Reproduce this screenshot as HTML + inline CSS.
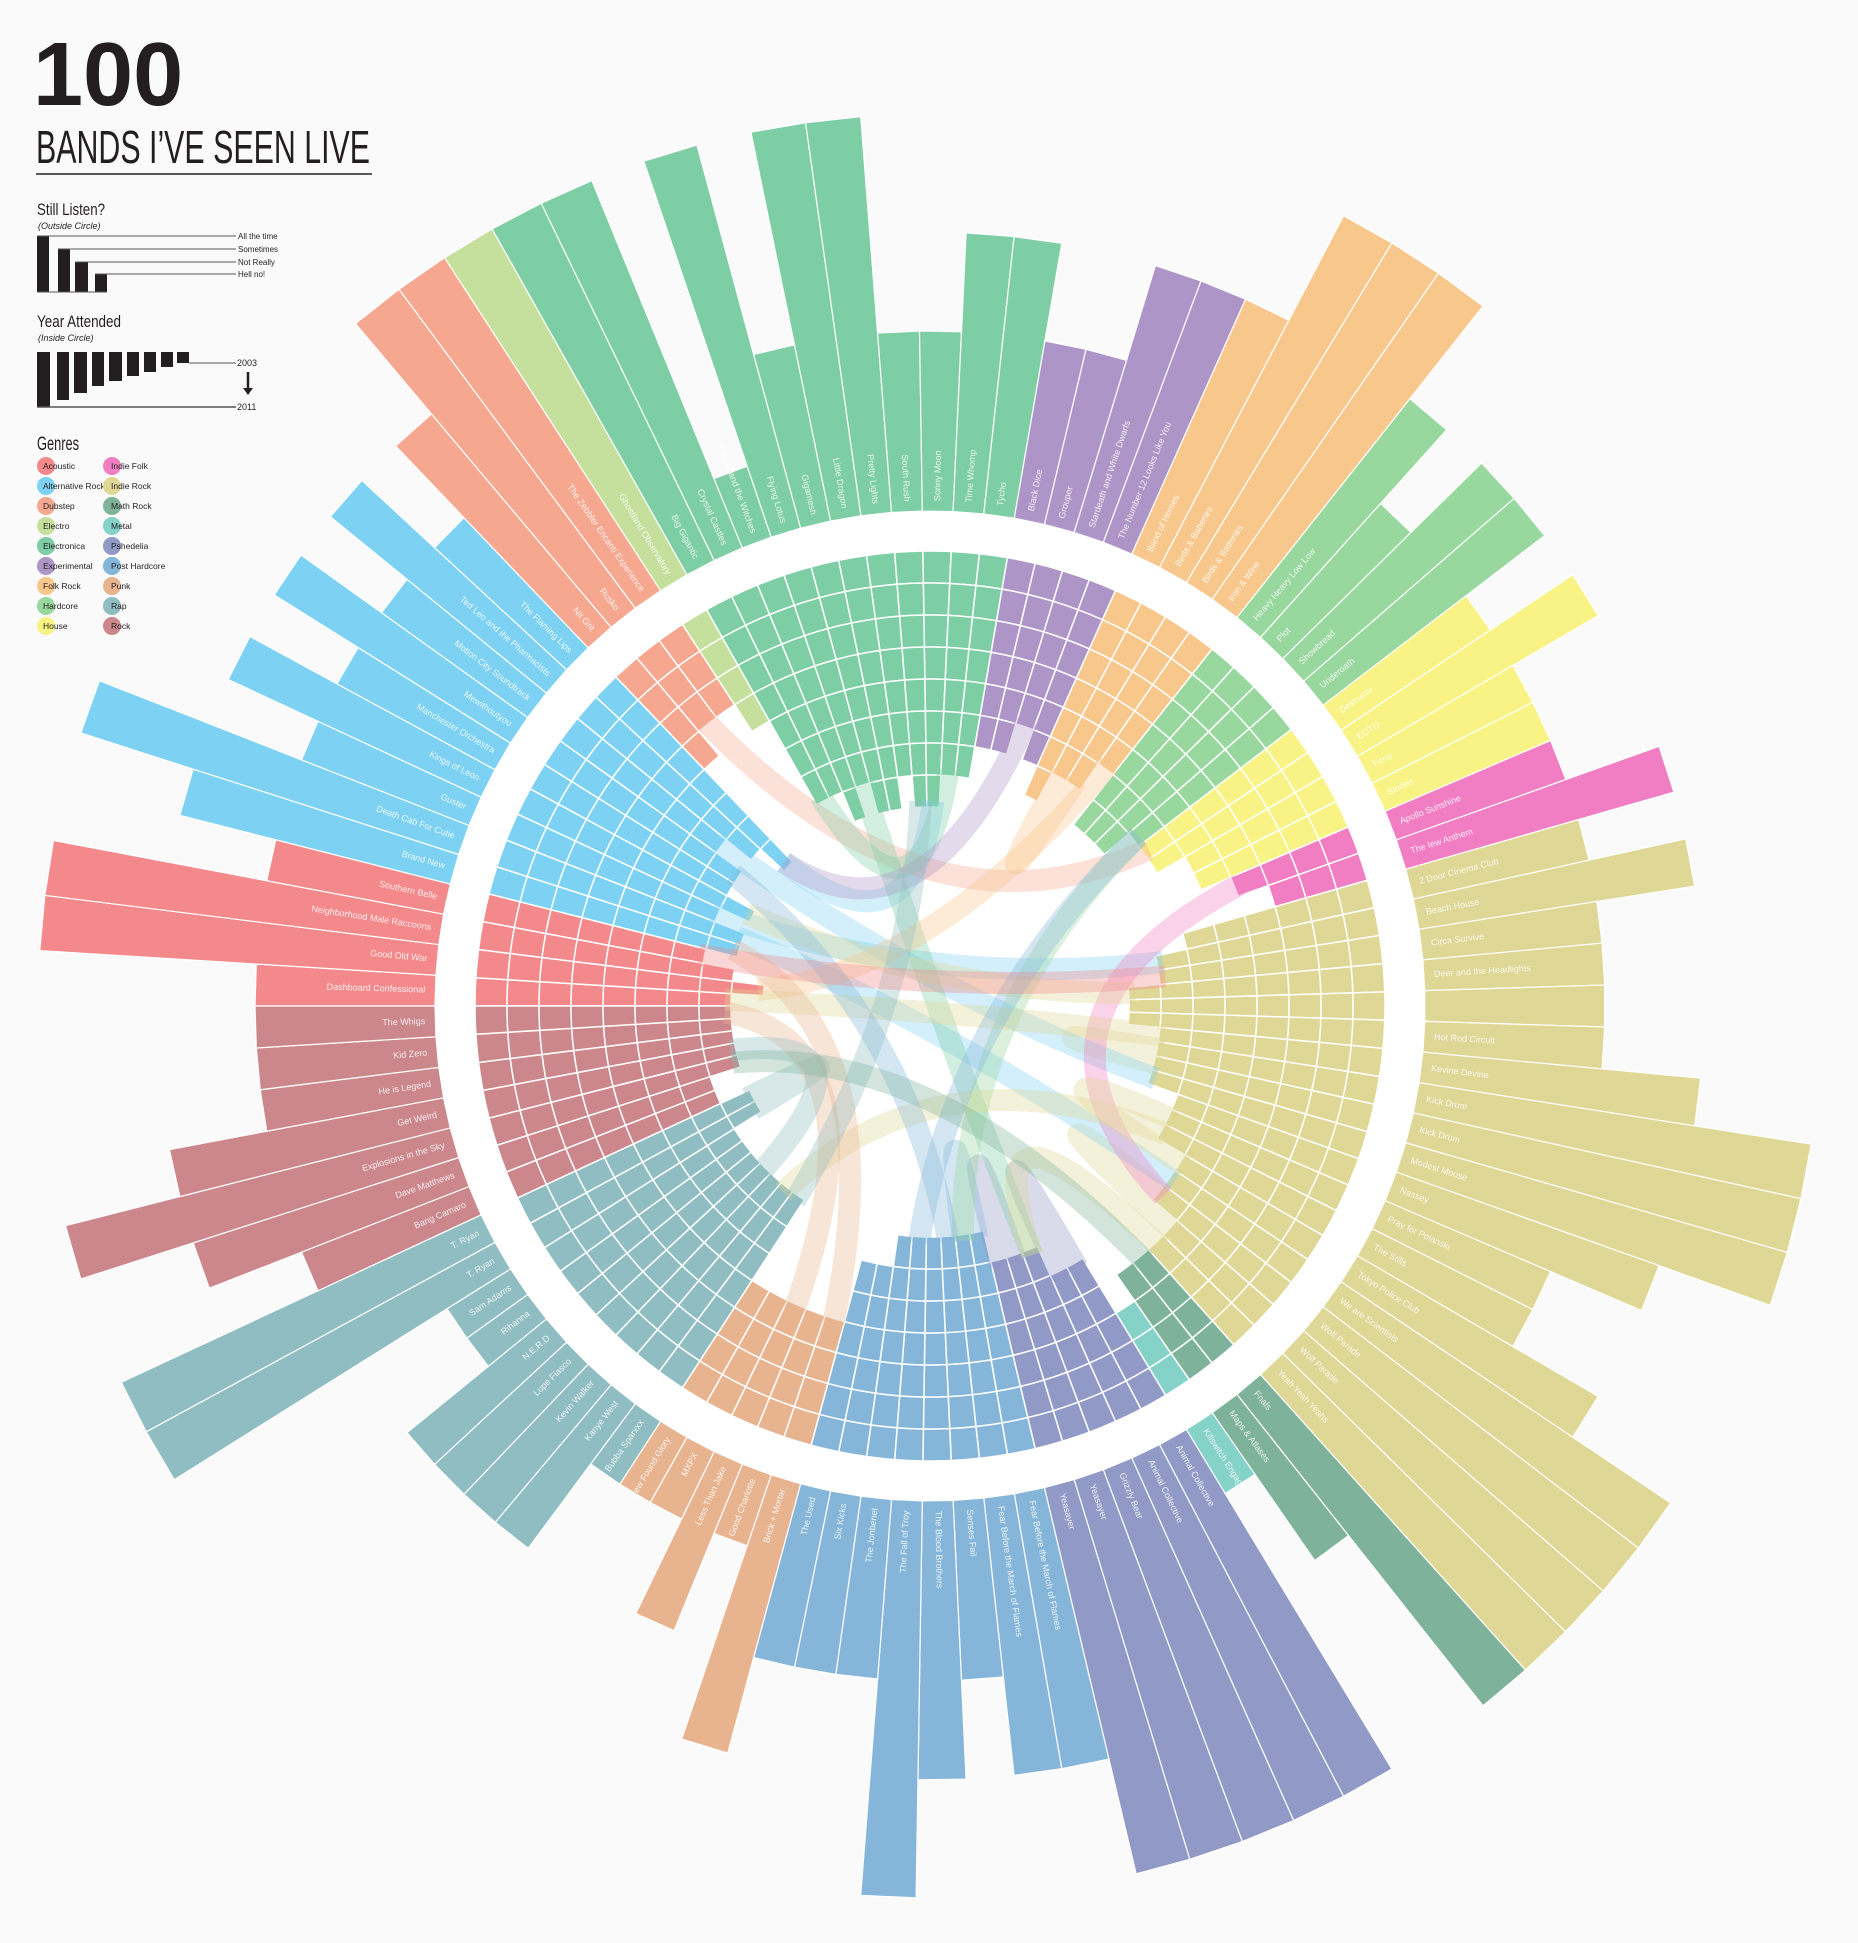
<!DOCTYPE html>
<html><head><meta charset="utf-8"><style>
html,body{margin:0;padding:0;background:#fafafa;}
svg{display:block;font-family:"Liberation Sans",sans-serif;}
</style></head><body>
<svg id="chart" width="1858" height="1943" viewBox="0 0 1858 1943" xmlns="http://www.w3.org/2000/svg">
<rect x="0" y="0" width="1858" height="1943" fill="#fafafa"/>
<g>
<text x="33" y="105" font-size="90" font-weight="bold" fill="#231f20">100</text>
<text x="36" y="163" font-size="46" fill="#231f20" textLength="334" lengthAdjust="spacingAndGlyphs" font-family="'Liberation Sans Narrow','Liberation Sans',sans-serif">BANDS I’VE SEEN LIVE</text>
<line x1="36" y1="174" x2="372" y2="174" stroke="#231f20" stroke-width="1.5"/>
</g>
<g>
<text x="37" y="215" font-size="17" fill="#231f20" textLength="68" lengthAdjust="spacingAndGlyphs" font-family="'Liberation Sans Narrow','Liberation Sans',sans-serif">Still Listen?</text>
<text x="38" y="229" font-size="9" font-style="italic" fill="#231f20">(Outside Circle)</text>
<rect x="37" y="236" width="12" height="56" fill="#231f20"/>
<rect x="58" y="249" width="12" height="43" fill="#231f20"/>
<rect x="75" y="262" width="13" height="30" fill="#231f20"/>
<rect x="95" y="274" width="12" height="18" fill="#231f20"/>
<g stroke="#555" stroke-width="1">
<line x1="37" y1="236" x2="236" y2="236"/><line x1="58" y1="249" x2="236" y2="249"/><line x1="75" y1="262" x2="236" y2="262"/><line x1="95" y1="274" x2="236" y2="274"/><line x1="37" y1="292" x2="107" y2="292"/>
</g>
<g font-size="8" fill="#231f20">
<text x="238" y="239">All the time</text>
<text x="238" y="252">Sometimes</text>
<text x="238" y="265">Not Really</text>
<text x="238" y="277">Hell no!</text>
</g>
</g>
<g>
<text x="37" y="327" font-size="17" fill="#231f20" textLength="84" lengthAdjust="spacingAndGlyphs" font-family="'Liberation Sans Narrow','Liberation Sans',sans-serif">Year Attended</text>
<text x="38" y="341" font-size="9" font-style="italic" fill="#231f20">(Inside Circle)</text>
<g fill="#231f20">
<rect x="37" y="352" width="13" height="55"/><rect x="57" y="352" width="12" height="48"/><rect x="74" y="352" width="13" height="41"/><rect x="92" y="352" width="12" height="34"/><rect x="109" y="352" width="13" height="29"/><rect x="127" y="352" width="12" height="24"/><rect x="144" y="352" width="12" height="20"/><rect x="161" y="352" width="12" height="15"/><rect x="177" y="352" width="12" height="11"/>
</g>
<line x1="189" y1="363" x2="236" y2="363" stroke="#555" stroke-width="1"/>
<line x1="37" y1="407" x2="236" y2="407" stroke="#555" stroke-width="1.5"/>
<text x="237" y="366" font-size="9" fill="#231f20">2003</text>
<text x="237" y="410" font-size="9" fill="#231f20">2011</text>
<line x1="248" y1="372" x2="248" y2="390" stroke="#231f20" stroke-width="2.5"/>
<path d="M243,388 L253,388 L248,395 Z" fill="#231f20"/>
</g>
<text x="37" y="450" font-size="19" fill="#231f20" textLength="42" lengthAdjust="spacingAndGlyphs" font-family="'Liberation Sans Narrow','Liberation Sans',sans-serif">Genres</text>
<g id="genreLegend"></g>
<g id="plot"></g>
</svg>
<script>
const genres = ["Acoustic","Alternative Rock","Dubstep","Electro","Electronica","Experimental","Folk Rock","Hardcore","House","Indie Folk","Indie Rock","Math Rock","Metal","Pshedelia","Post Hardcore","Punk","Rap","Rock"];
const genreColors = ["#f4898b","#7dd1f3","#f5a88f","#c5e09c","#7ecea5","#ae95c7","#f8c78c","#98d89e","#f8f384","#f17ec3","#dfd795","#7fb29a","#85d2c9","#9199c6","#85b6da","#e8b490","#8fbdc1","#cc878d"];
const bandNames = [
["Dashboard Confessional","Good Old War","Neighborhood Male Raccoons","Southern Belle"],
["Brand New","Death Cab For Cutie","Guster","Kings of Leon","Manchester Orchestra","Mewithoutyou","Motion City Soundtrack","Ted Leo and the Pharmacists","The Flaming Lips"],
["Nit Grit","Rusko","The Zebbler Encanti Experience"],
["Ghostland Observatory"],
["Big Gigantic","Crystal Castles","Edison and the Witches","Flying Lotus","Gigamesh","Little Dragon","Pretty Lights","South Rush","Sonny Moon","Time Whomp","Tycho"],
["Black Dice","Grouper","Stardeath and White Dwarfs","The Number 12 Looks Like You"],
["Band of Horses","Birds & Batteries","Birds & Batteries","Iron & Wine"],
["Heavy Heavy Low Low","Plot","Showbread","Underoath"],
["Destructo","EOTO","Fens","Sinden"],
["Apollo Sunshine","The Iew Anthem"],
["2 Door Cinema Club","Beach House","Circa Survive","Deer and the Headlights","","Hot Rod Circuit","Kevine Devine","Kick Drum","Kick Drum","Modest Mouse","Nassey","Pray for Polanski","The Stills","Tokyo Police Club","We are Scientists","Wolf Parade","Wolf Parade","Yeah Yeah Yeahs"],
["Fnals","Maps & Atlases"],
["Killswitch Engage"],
["Animal Collective","Animal Collective","Grizzly Bear","Yeasayer","Yeasayer"],
["Fear Before the March of Flames","Fear Before the March of Flames","Senses Fail","The Blood Brothers","The Fall of Troy","The Jonbenet","Six Kicks","The Used"],
["Brick + Mortar","Good Charlotte","Less Than Jake","MXPX","New Found Glory"],
["Bubba Sparxxx","Kanye West","Kevin Walker","Lupe Fiasco","N.E.R.D","Rihanna","Sam Adams","T. Ryan","T. Ryan"],
["Bang Camaro","Dave Matthews","Explosions in the Sky","Get Weird","He is Legend","Kid Zero","The Whigs"]
];
// still listen level 1 = Hell no! ... 4 = All the time
const listenLevels = [
[2,4,4,2],[3,4,2,3,2,3,2,3,2],[3,4,4],[4],[4,4,1,4,2,4,4,2,2,3,3],[2,2,3,3],[3,4,4,4],[3,2,3,3],[2,3,2,2],[2,3],
[2,3,2,2,2,2,3,4,4,4,3,2,2,3,4,4,4,4],[4,2],[1],[4,4,4,4,4],[3,3,2,3,4,2,2,2],[3,1,2,1,1],[1,2,2,2,2,1,1,4,4],[2,3,4,3,2,2,2]
];
const yearsAttended = [
[2004,2003,2004,2005],[2004,2004,2005,2004,2005,2005,2006,2005,2004],[2008,2009,2009],[2008],
[2005,2005,2004,2005,2004,2004,2005,2004,2004,2005,2005],[2006,2006,2007,2006],[2005,2006,2006,2007],[2005,2005,2005,2006],
[2006,2006,2007,2007],[2008,2009],[2006,2005,2005,2004,2004,2004,2005,2005,2005,2005,2006,2006,2006,2007,2007,2007,2008,2008],
[2008,2008],[2009],[2007,2007,2006,2006,2006],[2005,2005,2005,2005,2005,2005,2006,2006],[2008,2008,2008,2008,2008],
[2005,2005,2005,2005,2005,2005,2005,2004,2004],[2005,2005,2004,2004,2004,2004,2004]
];
const linkFrom = [33,53,61,92,67,70,72,5,6,10,12,14,17,20,30,35,39,44,49,52,58,63,76,80,82,85,88,74,64,57,3];
const linkTo   = [34,54,62,93,68,71,73,60,47,55,25,40,26,69,12,1,73,61,7,0,86,69,39,4,100,24,97,9,96,59,48];

const NS="http://www.w3.org/2000/svg";
const CX=930, CY=1006, R_RING_OUT=495, R_INNER=455, YEAR_STEP=32;
const LEVEL_R=[0,570,675,774,892];
const START=270;
const plot=document.getElementById('plot');
function mk(tag,attrs,parent){const e=document.createElementNS(NS,tag);for(const k in attrs)e.setAttribute(k,attrs[k]);(parent||plot).appendChild(e);return e;}

const bands=[];
genres.forEach((g,gi)=>{bandNames[gi].forEach((n,bi)=>{bands.push({name:n,g:gi,level:listenLevels[gi][bi],year:yearsAttended[gi][bi]});});});
const N=bands.length, STEP=360/N;
function angOf(i){return START+(i+0.5)*STEP;}
function pt(r,deg){const a=deg*Math.PI/180;return [CX+r*Math.sin(a),CY-r*Math.cos(a)];}
function rIn(year){return R_INNER-(2012-year)*YEAR_STEP;}
function sector(r0,r1,a0,a1){
  const p0=pt(r1,a0),p1=pt(r1,a1),p2=pt(r0,a1),p3=pt(r0,a0);
  return `M${p0[0]},${p0[1]} A${r1},${r1} 0 0 1 ${p1[0]},${p1[1]} L${p2[0]},${p2[1]} A${r0},${r0} 0 0 0 ${p3[0]},${p3[1]} Z`;
}

// outer bars (slightly tapered wedges, squared tips)
const outerG=mk('g',{});


bands.forEach((b,i)=>{
  const a0=START+i*STEP, a1=a0+STEP, rt=LEVEL_R[b.level];
  const p0=pt(R_RING_OUT,a0), p1=pt(R_RING_OUT,a1);
  const q0=pt(rt,a0), q1=pt(rt,a1);
  const r=mk('path',{d:`M${p0[0]},${p0[1]} L${q0[0]},${q0[1]} L${q1[0]},${q1[1]} L${p1[0]},${p1[1]} Z`,fill:genreColors[b.g],stroke:'#ffffff','stroke-width':1.2,'stroke-linejoin':'miter'},outerG);
  
  
});
const disc=mk('circle',{cx:CX,cy:CY,r:R_RING_OUT,fill:'#ffffff'});



// inner bars
const innerG=mk('g',{});


bands.forEach((b,i)=>{
  const a0=START+i*STEP, a1=a0+STEP;
  const nSeg=2012-b.year;
  for(let s=0;s<nSeg;s++){
    const r1=R_INNER-s*YEAR_STEP, r0=R_INNER-(s+1)*YEAR_STEP;
    const p=mk('path',{d:sector(r0,r1,a0,a1),fill:genreColors[b.g],stroke:'#ffffff','stroke-width':1.5},innerG);
    
    
  }
});

// links
const linkG=mk('g',{});


linkFrom.forEach((f,k)=>{
  const t=linkTo[k];
  const pa=pt(rIn(bands[f].year)+6,angOf(f)), pb=pt(rIn(bands[t].year)+6,angOf(t));
  const c=[CX+(pa[0]+pb[0]-2*CX)*0.12, CY+(pa[1]+pb[1]-2*CY)*0.12];
  const l=mk('path',{d:`M${pa[0]},${pa[1]} Q${c[0]},${c[1]} ${pb[0]},${pb[1]}`,fill:'none',stroke:genreColors[bands[f].g],'stroke-width':22,'stroke-opacity':0.35},linkG);
  
  
});

// labels
const labG=mk('g',{'font-size':9,fill:'#ffffff','fill-opacity':0.85});


bands.forEach((b,i)=>{
  if(!b.name)return;
  const th=angOf(i);
  const norm=((th%360)+360)%360;
  const p=pt(R_RING_OUT+10,th);
  let t;
  if(norm<180){
    t=mk('text',{x:p[0],y:p[1],'text-anchor':'start','dominant-baseline':'middle',transform:`rotate(${th-90} ${p[0]} ${p[1]})`},labG);
  }else{
    t=mk('text',{x:p[0],y:p[1],'text-anchor':'end','dominant-baseline':'middle',transform:`rotate(${th+90} ${p[0]} ${p[1]})`},labG);
  }
  t.textContent=b.name;
  
  
});

// genre legend
const gl=document.getElementById('genreLegend');
genres.forEach((g,gi)=>{
  const col=gi<9?0:1, row=gi%9;
  const cx=col?112:46, cy=466+row*20;
  const c=document.createElementNS(NS,'circle');
  c.setAttribute('cx',cx);c.setAttribute('cy',cy);c.setAttribute('r',9);c.setAttribute('fill',genreColors[gi]);
  
  
  gl.appendChild(c);
  const t=document.createElementNS(NS,'text');
  t.setAttribute('x',col?111:43);t.setAttribute('y',cy+3);t.setAttribute('font-size',8.5);t.setAttribute('fill','#231f20');
  t.textContent=g;
  
  
  gl.appendChild(t);
});
</script>
</body></html>
